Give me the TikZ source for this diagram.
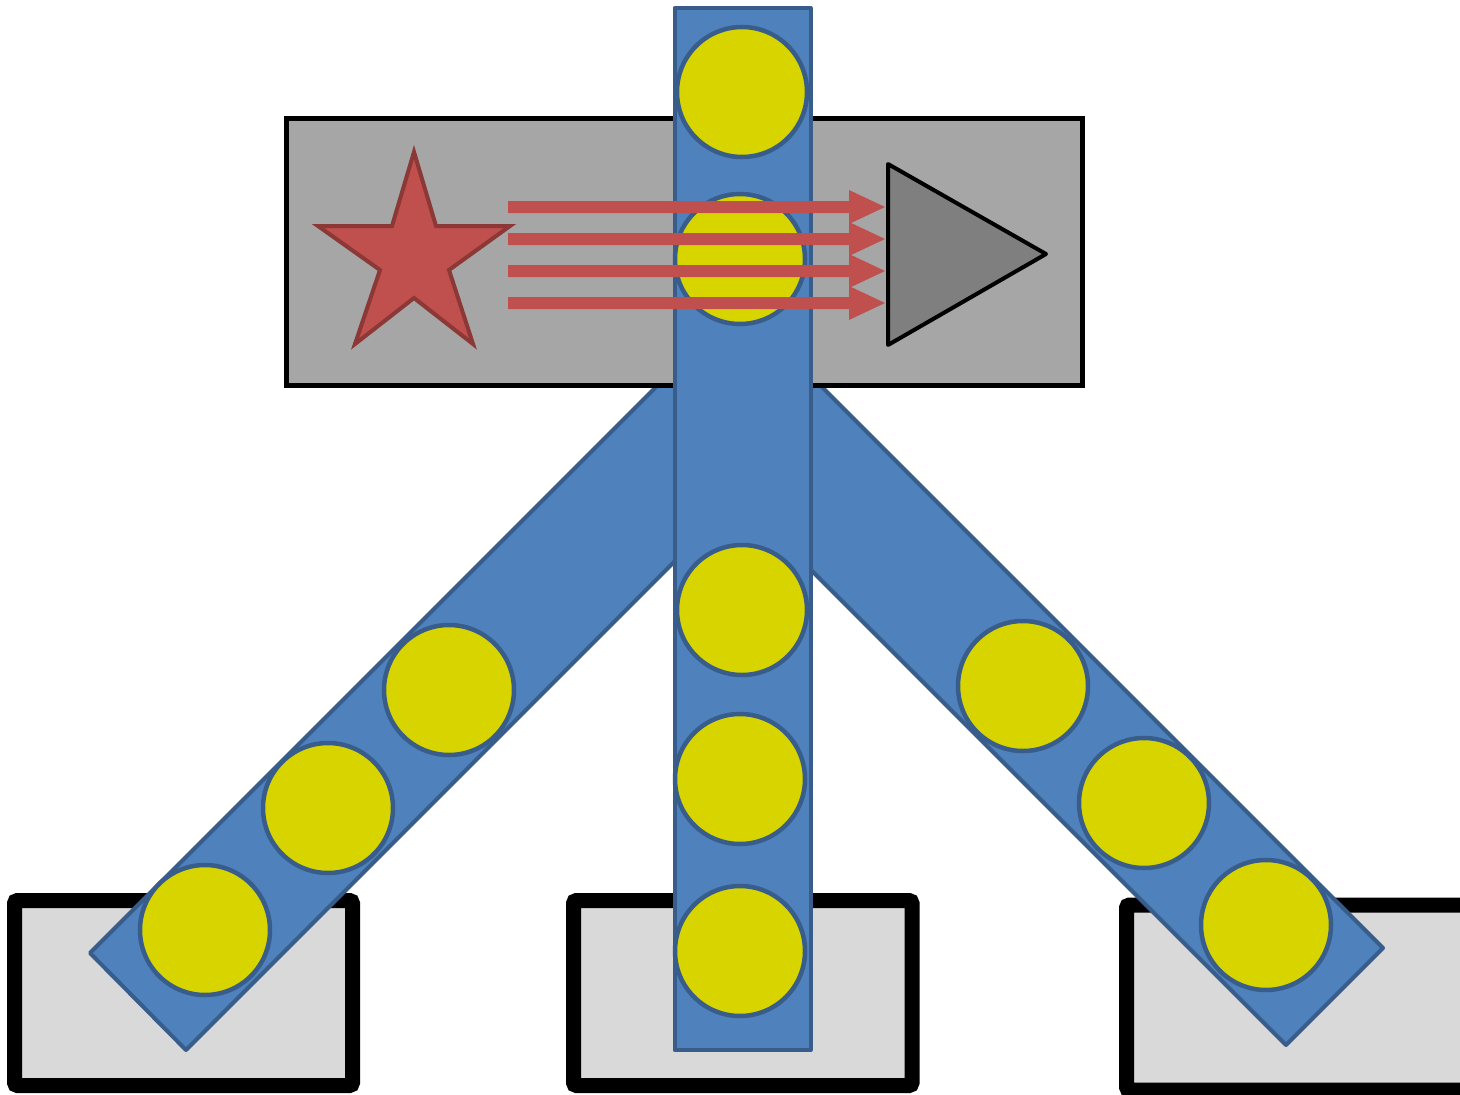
\documentclass[tikz,border=0pt]{standalone}
\definecolor{barfill}{HTML}{4F81BD}
\definecolor{barline}{HTML}{385D8A}
\definecolor{ball}{HTML}{D8D400}
\definecolor{boxgray}{HTML}{A6A6A6}
\definecolor{basegray}{HTML}{D9D9D9}
\definecolor{trigray}{HTML}{7F7F7F}
\definecolor{redfill}{HTML}{C0504D}
\definecolor{redline}{HTML}{8C3836}
\begin{document}
\begin{tikzpicture}[x=1pt,y=-1pt,
  basebox/.style={draw=black,fill=basegray,line width=15pt,rounded corners=3pt},
  bar/.style={draw=barline,fill=barfill,line width=4pt,line join=round},
  ballstyle/.style={circle,draw=barline,fill=ball,line width=4.5pt,minimum size=130pt,inner sep=0pt},
  ray/.style={fill=redfill,draw=none}]
\useasboundingbox (0,0) rectangle (1460,1095);
\begin{scope}
\clip (0,0) rectangle (1460,1095);
% bottom bases
\draw[basebox] (14.5,900.5) rectangle (352.5,1085.5);
\draw[basebox] (573.5,900.5) rectangle (912,1085.5);
\draw[basebox] (1126.5,905) rectangle (1468,1090);
\end{scope}
% diagonal bars
\draw[bar] (90,953) -- (186,1050) -- (786,450) -- (690,353) -- cycle;
\draw[bar] (1383,948) -- (1286,1045) -- (686,445) -- (783,348) -- cycle;
% gray box
\draw[draw=black,fill=boxgray,line width=5pt] (286.5,118.5) rectangle (1082.5,385.5);
% vertical bar
\draw[bar] (674.5,8) rectangle (810.5,1050);
% balls on diagonal bars
\node[ballstyle] (l1) at (449,690) {};
\node[ballstyle] (l2) at (328,808) {};
\node[ballstyle] (l3) at (205,930) {};
\node[ballstyle] (r1) at (1023,686) {};
\node[ballstyle] (r2) at (1144,803) {};
\node[ballstyle] (r3) at (1266,925) {};
% balls on vertical bar
\node[ballstyle] (v1) at (742,92) {};
\node[ballstyle] (v2) at (740,259) {};
\node[ballstyle] (v3) at (742,610) {};
\node[ballstyle] (v4) at (740,779) {};
\node[ballstyle] (v5) at (740,951) {};
% star
\draw[fill=redfill,draw=redline,line width=4pt,line join=miter]
  (414,152) -- (436,226) -- (510,226) -- (449,270) -- (473,344) -- (414,298)
  -- (355,344) -- (380,270) -- (318,226) -- (392,226) -- cycle;
% triangle
\draw[fill=trigray,draw=black,line width=4pt,line join=round]
  (888,164) -- (1046,254) -- (888,345) -- cycle;
% rays
\foreach \y in {207,239,271,303}{
  \fill[ray] (508,\y-6) -- (849,\y-6) -- (849,\y-17) -- (885,\y) -- (849,\y+17) -- (849,\y+6) -- (508,\y+6) -- cycle;
}
\end{tikzpicture}
\end{document}
